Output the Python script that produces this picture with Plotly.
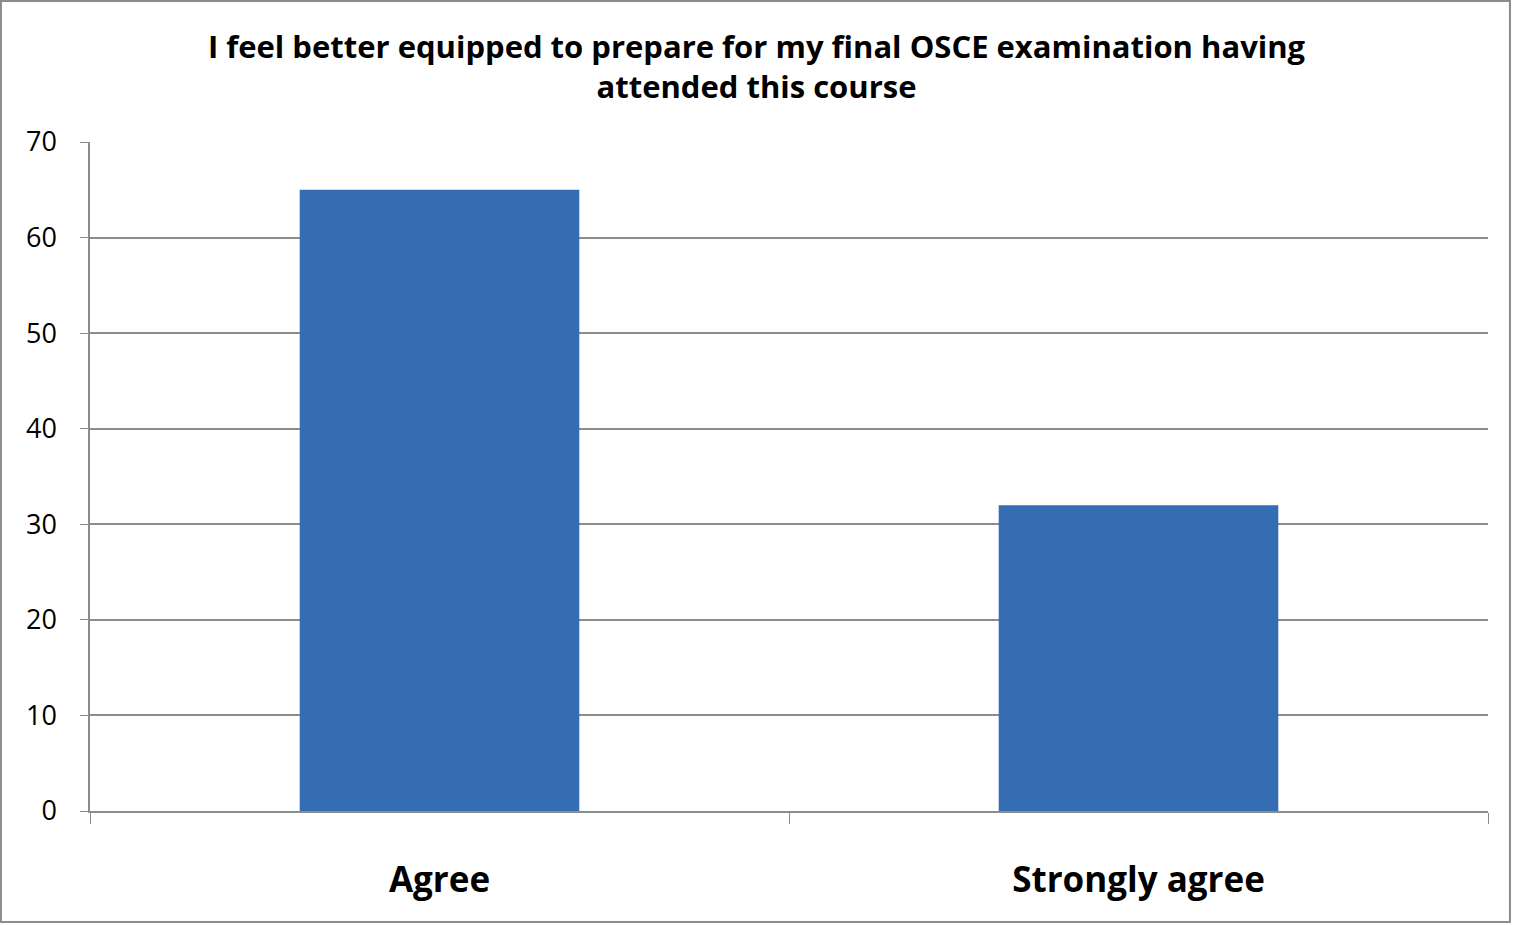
import plotly.graph_objects as go

categories = ["Agree", "Strongly agree"]
responses = [65, 32]
y_ticks = [0, 10, 20, 30, 40, 50, 60, 70]

title_text = ("I feel better equipped to prepare for my final OSCE examination having"
              "<br>attended this course")

fig = go.Figure(data=[go.Bar(x=categories, y=responses,
                             marker=dict(color="#356DB2", line=dict(width=0)),
                             width=0.4, hoverinfo="x+y")])

fig.update_layout(
    width=1513, height=925,
    title=dict(text=title_text, x=0.5, xanchor="center",
               yref="container", y=1 - 58 / 925, yanchor="middle",
               font=dict(family="Open Sans", size=31, color="#000000", weight="bold")),
    plot_bgcolor="white",
    paper_bgcolor="white",
    margin=dict(l=90, r=25, t=142, b=114),
    showlegend=False,
    font=dict(family="Open Sans", color="#000000"),
    # outer chart border
    shapes=[dict(type="rect", xref="paper", yref="paper",
                 x0=-0.0637, x1=1.0157, y0=-0.1659, y1=1.2108,
                 line=dict(color="#8c8c8c", width=2), layer="below")],
)

fig.update_xaxes(
    showline=True, linecolor="#8c8c8c", linewidth=1.5,
    ticks="outside", tickson="boundaries", ticklen=11, tickcolor="#8c8c8c",
    tickfont=dict(size=35, family="Open Sans", weight="bold"),
    ticklabelstandoff=37,
    showgrid=False,
)
fig.update_yaxes(
    range=[0, 70], tickvals=y_ticks,
    showline=True, linecolor="#8c8c8c", linewidth=1.5,
    ticks="outside", ticklen=8, tickcolor="#8c8c8c",
    showgrid=True, gridcolor="#8c8c8c", gridwidth=1.5,
    zeroline=False,
    tickfont=dict(size=27, family="Open Sans"),
    ticklabelstandoff=18,
)

fig.write_html("out.html", config={"displayModeBar": False},
               post_script="document.body.style.margin='0';document.body.style.overflow='hidden';")
